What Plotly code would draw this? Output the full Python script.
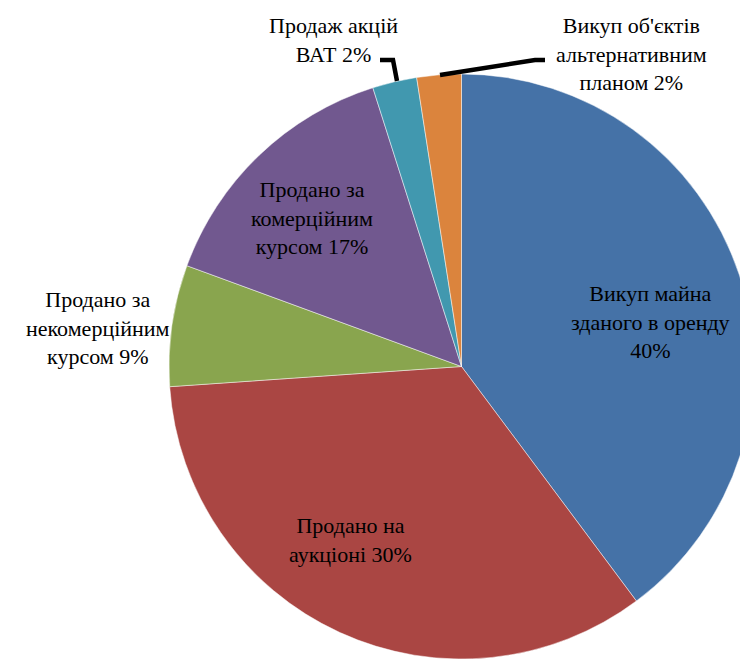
import plotly.graph_objects as go

# ---- data ----
categories = [
    "Викуп майна<br>зданого в оренду",
    "Продано на<br>аукціоні",
    "Продано за<br>некомерційним<br>курсом",
    "Продано за<br>комерційним<br>курсом",
    "Продаж акцій<br>ВАТ",
    "Викуп об'єктів<br>альтернативним<br>планом",
]
# slice sizes as drawn in the picture
values = [39.8, 34.1, 6.7, 14.5, 2.45, 2.45]
# percentages printed in the labels
label_pcts = ["40%", "30%", "9%", "17%", "2%", "2%"]
colors = ["#4572A7", "#AA4643", "#89A54E", "#71588F", "#4198AF", "#DB843D"]

# label texts
label_texts = [
    "Викуп майна<br>зданого в оренду<br>" + label_pcts[0],
    "Продано на<br>аукціоні " + label_pcts[1],
    "Продано за<br>некомерційним<br>курсом " + label_pcts[2],
    "Продано за<br>комерційним<br>курсом " + label_pcts[3],
    "Продаж акцій<br>ВАТ " + label_pcts[4],
    "Викуп об'єктів<br>альтернативним<br>планом " + label_pcts[5],
]

# ---- layout geometry (pixels) ----
W, H = 755, 659
PL, PT, PS = 169, 74, 585   # plot area left, top, size


def px(x):
    return (x - PL) / PS


def py(y):
    return 1 - (y - PT) / PS


label_pos = [(650, 322), (350, 540), (98, 328), (312, 218), (333, 40), (631, 54)]

fig = go.Figure(
    go.Pie(
        labels=categories,
        values=values,
        sort=False,
        direction="clockwise",
        rotation=0,
        marker=dict(colors=colors, line=dict(color="rgba(255,255,255,0.6)", width=0.8)),
        textinfo="none",
        hoverinfo="label+percent",
        showlegend=False,
    )
)

font = dict(family="Liberation Serif", size=22, color="#000000")
annotations = []
for txt, (x, y) in zip(label_texts, label_pos):
    annotations.append(
        dict(
            x=px(x), y=py(y), xref="paper", yref="paper",
            text=txt, showarrow=False, font=font, align="center",
            xanchor="center", yanchor="middle",
        )
    )

# leader lines
leaders = [
    [(380, 60), (393, 60), (397, 81)],
    [(440, 75), (535, 60), (545, 60)],
]
shapes = []
for pts in leaders:
    path = "M " + " L ".join(f"{px(a)},{py(b)}" for a, b in pts)
    shapes.append(dict(type="path", xref="paper", yref="paper", path=path,
                       line=dict(color="black", width=4.5)))

fig.update_layout(
    width=W, height=H,
    margin=dict(l=PL, r=W - PL - PS, t=PT, b=H - PT - PS, pad=0),
    paper_bgcolor="white", plot_bgcolor="white",
    annotations=annotations, shapes=shapes,
)

fig.write_html(
    "out.html",
    config={"displayModeBar": False},
    post_script="document.body.style.margin='0';document.body.style.overflow='hidden';document.documentElement.style.overflow='hidden';",
)
